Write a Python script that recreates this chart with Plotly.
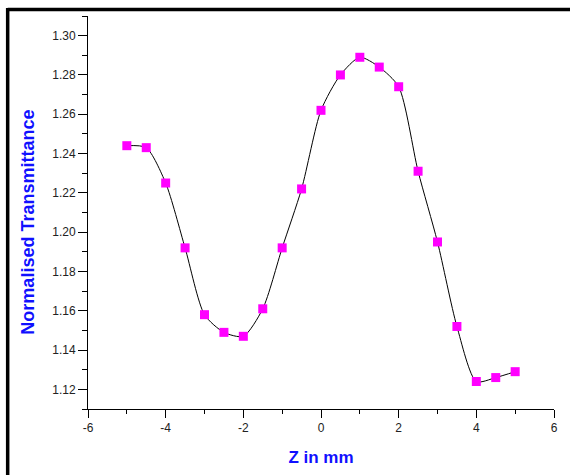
import plotly.graph_objects as go

z_mm = [-5, -4.5, -4, -3.5, -3, -2.5, -2, -1.5, -1, -0.5, 0, 0.5, 1, 1.5, 2, 2.5, 3, 3.5, 4, 4.5, 5]
transmittance = [1.244, 1.243, 1.225, 1.192, 1.158, 1.149, 1.147, 1.161, 1.192, 1.222, 1.262,
                 1.280, 1.289, 1.284, 1.274, 1.231, 1.195, 1.152, 1.124, 1.126, 1.129]
x_ticks = [-6, -4, -2, 0, 2, 4, 6]
y_ticks = [1.12, 1.14, 1.16, 1.18, 1.20, 1.22, 1.24, 1.26, 1.28, 1.30]

W, H = 570, 475
L, R, T, B = 88, 15, 16, 62
pw, ph = W - L - R, H - T - B

fig = go.Figure()
fig.add_trace(go.Scatter(
    x=z_mm, y=transmittance, mode="lines",
    line=dict(color="black", width=1, shape="spline", smoothing=0.7),
    showlegend=False, hoverinfo="skip"))
fig.add_trace(go.Scatter(
    x=z_mm, y=transmittance, mode="markers",
    marker=dict(symbol="square", size=9, color="#FF00FF", line=dict(width=0)),
    showlegend=False))

tickfont = dict(family="Liberation Sans, Arial", size=12, color="#222")
titlefont = dict(family="Liberation Sans, Arial", size=18, color="#1010FF")
fig.update_xaxes(
    range=[-6, 6], tickvals=x_ticks, ticktext=[str(v) for v in x_ticks],
    showline=True, linecolor="black", linewidth=1,
    ticks="outside", ticklen=8, tickcolor="black", tickwidth=1,
    minor=dict(dtick=1, ticks="outside", ticklen=4, tickcolor="black", tickwidth=1, showgrid=False),
    showgrid=False, zeroline=False, tickfont=tickfont,
    title=dict(text="<b>Z in mm</b>", font=dict(family="Liberation Sans, Arial", size=17, color="#1010FF"), standoff=16))
fig.update_yaxes(
    range=[1.11, 1.31], tickvals=y_ticks, ticktext=["%.2f" % v for v in y_ticks],
    showline=True, linecolor="black", linewidth=1,
    ticks="outside", ticklen=9, tickcolor="black", tickwidth=1,
    minor=dict(dtick=0.01, ticks="outside", ticklen=5, tickcolor="black", tickwidth=1, showgrid=False),
    showgrid=False, zeroline=False, tickfont=tickfont)

fig.add_annotation(
    text="<b>Normalised Transmittance</b>", font=titlefont, textangle=-90,
    xref="paper", yref="paper", x=(27 - L) / pw, y=0.5, yshift=-10,
    xanchor="center", yanchor="middle", showarrow=False)

# frame lines (top and left) of the original figure
fig.add_shape(type="line", xref="paper", yref="paper",
              x0=(7.5 - L) / pw, x1=(W + 5 - L) / pw,
              y0=1 + (T - 9.5) / ph, y1=1 + (T - 9.5) / ph,
              line=dict(color="black", width=3.5))
fig.add_shape(type="line", xref="paper", yref="paper",
              x0=(7.5 - L) / pw, x1=(7.5 - L) / pw,
              y0=1 + (T - 8) / ph, y1=-(B + 5) / ph,
              line=dict(color="black", width=3.5))

fig.update_layout(
    width=W, height=H, margin=dict(l=L, r=R, t=T, b=B),
    paper_bgcolor="white", plot_bgcolor="white")

fig.write_html("out.html")
